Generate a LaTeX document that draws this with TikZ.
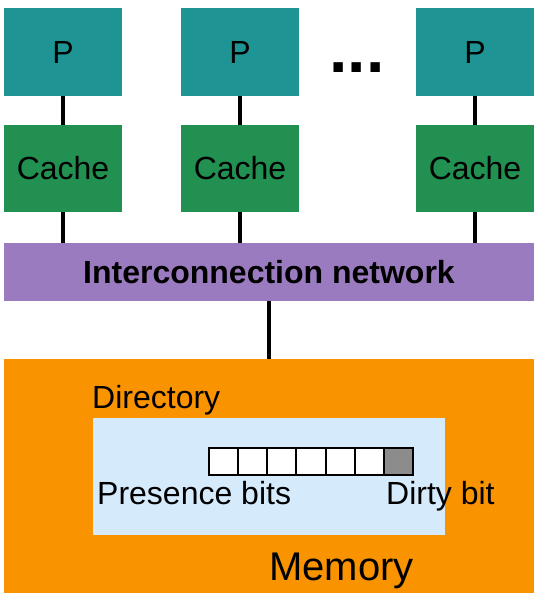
\documentclass[tikz,border=0pt]{standalone}
\usepackage{fontspec}
\setmainfont{Liberation Sans}
\definecolor{pteal}{HTML}{1F9494}
\definecolor{cgreen}{HTML}{229050}
\definecolor{netpurple}{HTML}{9B7BC0}
\definecolor{memorange}{HTML}{FA9300}
\definecolor{dirblue}{HTML}{D5EAFA}
\definecolor{dirtygray}{HTML}{8C8C8C}
\newcommand{\bigtxt}{\fontsize{32}{38}\selectfont}
\begin{document}
\begin{tikzpicture}[x=1pt,y=-1pt,
  box/.style={rectangle, inner sep=0pt, font=\bigtxt},
  pbox/.style={box, fill=pteal, minimum width=118pt, minimum height=88pt},
  cbox/.style={box, fill=cgreen, minimum width=118pt, minimum height=87pt},
  conn/.style={line width=3.5pt, black},
  bitcell/.style={rectangle, draw=black, line width=2pt, fill=white, inner sep=0pt, outer sep=0pt, minimum width=29.14pt, minimum height=27pt},
  lbl/.style={inner sep=0pt, font=\bigtxt, anchor=base west}
]
\useasboundingbox (0,0) rectangle (539,600);

% processors
\node[pbox] (p1) at (63,52) {P};
\node[pbox] (p2) at (240,52) {P};
\node[pbox] (p3) at (475,52) {P};
\node[inner sep=0pt, anchor=base, font=\fontsize{66}{70}\selectfont\bfseries] (dots) at (357,72) {...};

% caches
\node[cbox] (c1) at (63,168.5) {Cache};
\node[cbox] (c2) at (240,168.5) {Cache};
\node[cbox] (c3) at (475,168.5) {Cache};

% network
\node[box, fill=netpurple, minimum width=530pt, minimum height=58pt, font=\bigtxt\bfseries] (net) at (269,272) {Interconnection network};

% memory
\node[box, fill=memorange, minimum width=530pt, minimum height=234pt] (mem) at (269,476) {};
\node[box, fill=dirblue, minimum width=352pt, minimum height=117pt] (dir) at (269,476.5) {};

% connectors
\draw[conn] (p1.south) -- (c1.north);
\draw[conn] (p2.south) -- (c2.north);
\draw[conn] (p3.south) -- (c3.north);
\draw[conn] (c1.south) -- (c1.south |- net.north);
\draw[conn] (c2.south) -- (c2.south |- net.north);
\draw[conn] (c3.south) -- (c3.south |- net.north);
\draw[conn] (net.south) -- (mem.north);

% bit vector
\node[bitcell] (b1) at (223.6,461.5) {};
\node[bitcell, anchor=west] (b2) at (b1.east) {};
\node[bitcell, anchor=west] (b3) at (b2.east) {};
\node[bitcell, anchor=west] (b4) at (b3.east) {};
\node[bitcell, anchor=west] (b5) at (b4.east) {};
\node[bitcell, anchor=west] (b6) at (b5.east) {};
\node[bitcell, anchor=west, fill=dirtygray] (b7) at (b6.east) {};

% labels
\node[lbl] (dirlbl) at (92,408) {Directory};
\node[lbl] (pres) at (97,504) {Presence bits};
\node[lbl] (dirty) at (386,504) {Dirty bit};
\node[lbl, font=\fontsize{40}{46}\selectfont] (memlbl) at (269,580) {Memory};
\end{tikzpicture}
\end{document}
